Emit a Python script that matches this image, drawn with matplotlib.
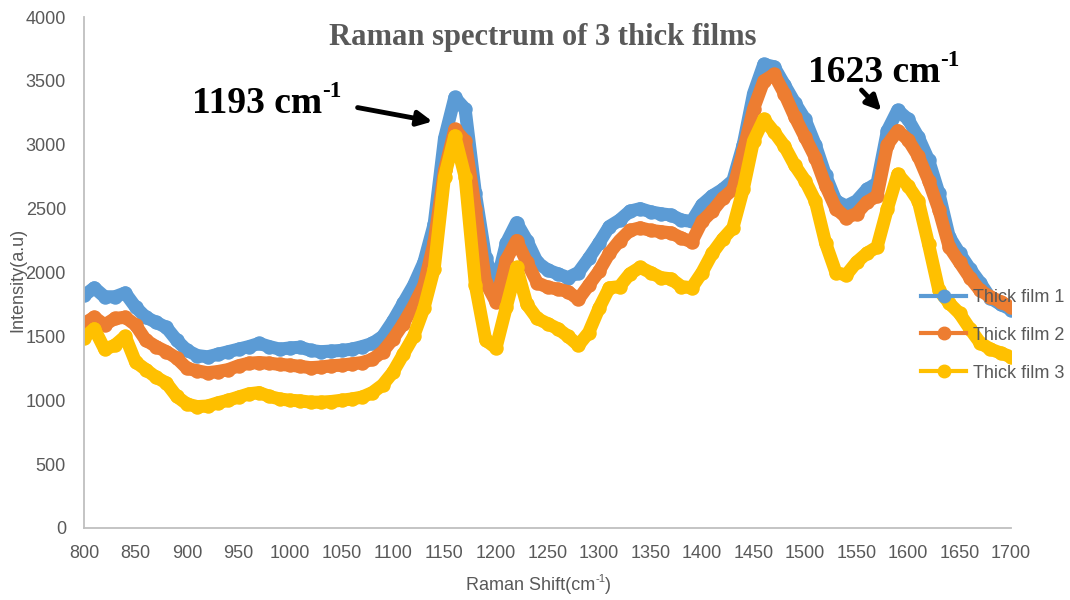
import numpy as np
import matplotlib
matplotlib.use("Agg")
import matplotlib.pyplot as plt
from matplotlib.lines import Line2D
from matplotlib.transforms import offset_copy

# Raman shift (cm-1), every 10 cm-1
shift = list(range(800, 1701, 10))

film1 = [1820, 1880, 1810, 1810, 1840, 1730, 1650, 1610, 1570, 1470,
         1390, 1350, 1340, 1360, 1380, 1400, 1420, 1445, 1420, 1400,
         1410, 1415, 1390, 1380, 1385, 1390, 1400, 1420, 1445, 1500,
         1620, 1760, 1900, 2080, 2380, 3050, 3370, 3280, 2620, 2110,
         1900, 2230, 2390, 2250, 2080, 2020, 1990, 1960, 2000, 2110,
         2230, 2360, 2410, 2480, 2500, 2475, 2460, 2450, 2410, 2400,
         2530, 2600, 2650, 2720, 3000, 3400, 3630, 3610, 3470, 3330,
         3200, 3000, 2760, 2560, 2520, 2560, 2650, 2700, 3110, 3270,
         3200, 3060, 2880, 2620, 2280, 2150, 2030, 1920, 1800, 1750,
         1710]

film2 = [1600, 1650, 1590, 1640, 1650, 1590, 1470, 1420, 1380, 1330,
         1250, 1230, 1215, 1225, 1240, 1270, 1290, 1295, 1290, 1280,
         1275, 1265, 1255, 1260, 1270, 1275, 1285, 1295, 1320, 1380,
         1480, 1600, 1740, 1900, 2240, 2800, 3120, 3030, 2500, 1920,
         1770, 2100, 2250, 2080, 1920, 1885, 1870, 1850, 1790, 1900,
         2010, 2150, 2250, 2330, 2350, 2330, 2320, 2310, 2270, 2240,
         2400, 2480, 2580, 2650, 2950, 3280, 3500, 3550, 3400, 3220,
         3060, 2900, 2680, 2500, 2430, 2460, 2550, 2600, 3000, 3110,
         3040, 2910, 2720, 2490, 2200, 2080, 1960, 1860, 1810, 1770,
         1730]

film3 = [1490, 1560, 1400, 1430, 1500, 1300, 1240, 1180, 1135, 1030,
         970, 950, 955, 980, 1000, 1025, 1050, 1060, 1030, 1010,
         1000, 995, 985, 985, 990, 1000, 1010, 1025, 1060, 1120,
         1220, 1360, 1500, 1720, 2030, 2750, 3070, 2750, 1900, 1470,
         1410, 1730, 2040, 1750, 1640, 1600, 1560, 1500, 1430, 1530,
         1720, 1880, 1890, 1990, 2040, 2000, 1960, 1950, 1890, 1880,
         2000, 2150, 2260, 2350, 2650, 3030, 3200, 3100, 2990, 2840,
         2720, 2560, 2230, 2000, 1980, 2080, 2150, 2200, 2500, 2770,
         2680, 2560, 2220, 1860, 1760, 1680, 1560, 1450, 1400, 1370,
         1340]

labels = ["Thick film 1", "Thick film 2", "Thick film 3"]
colors = ["#5B9BD5", "#ED7D31", "#FFC000"]

gray = "#595959"
sans = ["Liberation Sans", "DejaVu Sans"]
serif = ["Liberation Serif", "DejaVu Serif"]

fig = plt.figure(figsize=(10.7, 6), dpi=100)
ax = fig.add_axes([84 / 1070, 1 - 528 / 600, (1011 - 84) / 1070, (528 - 17) / 600])
renderer = fig.canvas.get_renderer()


def sup_text(x, y, main, sup, size, transform, tail="", **kw):
    # main text on a baseline, small raised "-1" right after it, then optional tail
    t = fig.text(x, y, main, fontsize=size, va="baseline", transform=transform, **kw)
    w = t.get_window_extent(renderer).width
    tr = offset_copy(transform, fig=fig, x=w, y=size * 0.42 * 100 / 72, units="dots")
    s = fig.text(x, y, sup, fontsize=size * 0.62, va="baseline", transform=tr, **kw)
    if tail:
        ws = s.get_window_extent(renderer).width
        tr2 = offset_copy(transform, fig=fig, x=w + ws, y=0, units="dots")
        fig.text(x, y, tail, fontsize=size, va="baseline", transform=tr2, **kw)
    return t


for ys, c in zip([film1, film2, film3], colors):
    ax.plot(shift, ys, color=c, lw=9.4, marker="o", ms=9.4, mec=c, mfc=c,
            solid_capstyle="round", solid_joinstyle="round")

ax.set_xlim(800, 1700)
ax.set_ylim(0, 4000)
ax.set_xticks(np.arange(800, 1701, 50))
ax.set_yticks(np.arange(0, 4001, 500))
ax.tick_params(length=0, labelcolor=gray, labelsize=13)
ax.tick_params(axis="x", pad=12)
ax.tick_params(axis="y", pad=13)
for lab in ax.get_xticklabels() + ax.get_yticklabels():
    lab.set_family(sans)
for s in ["top", "right"]:
    ax.spines[s].set_visible(False)
for s in ["left", "bottom"]:
    ax.spines[s].set_color("#BFBFBF")
    ax.spines[s].set_linewidth(1.3)

fig.text(18 / 1070, 1 - 280 / 600, "Intensity(a.u)", rotation=90, ha="center",
         va="center", color=gray, fontsize=13, family=sans)
sup_text(466 / 1070, 1 - 590 / 600, "Raman Shift(cm", "-1", 13, fig.transFigure,
         tail=")", color=gray, family=sans)

fig.text(543 / 1070, 1 - 38 / 600, "Raman spectrum of 3 thick films", ha="center",
         va="center", color=gray, fontsize=22, fontweight="bold", family=serif)

# peak annotations
sup_text(905, 3249, "1193 cm", "-1", 27, ax.transData, fontweight="bold",
         family=serif, color="black")
ax.annotate("", xy=(1141, 3178), xytext=(1063, 3295),
            arrowprops=dict(arrowstyle="-|>", lw=3.5, color="black", mutation_scale=22))
sup_text(1503, 3491, "1623 cm", "-1", 27, ax.transData, fontweight="bold",
         family=serif, color="black")
ax.annotate("", xy=(1576, 3249), xytext=(1553, 3444),
            arrowprops=dict(arrowstyle="-|>", lw=3.5, color="black", mutation_scale=22))

handles = [Line2D([], [], color=c, lw=3, marker="o", ms=9, mec=c, mfc=c) for c in colors]
leg = fig.legend(handles, labels, loc="upper left",
                 bbox_to_anchor=(912 / 1070, 1 - 280 / 600), frameon=False,
                 handlelength=2.5, handletextpad=0.4, labelspacing=1.15,
                 prop={"family": sans, "size": 13}, borderpad=0)
for t in leg.get_texts():
    t.set_color(gray)

fig.savefig("out.png", dpi=100)
